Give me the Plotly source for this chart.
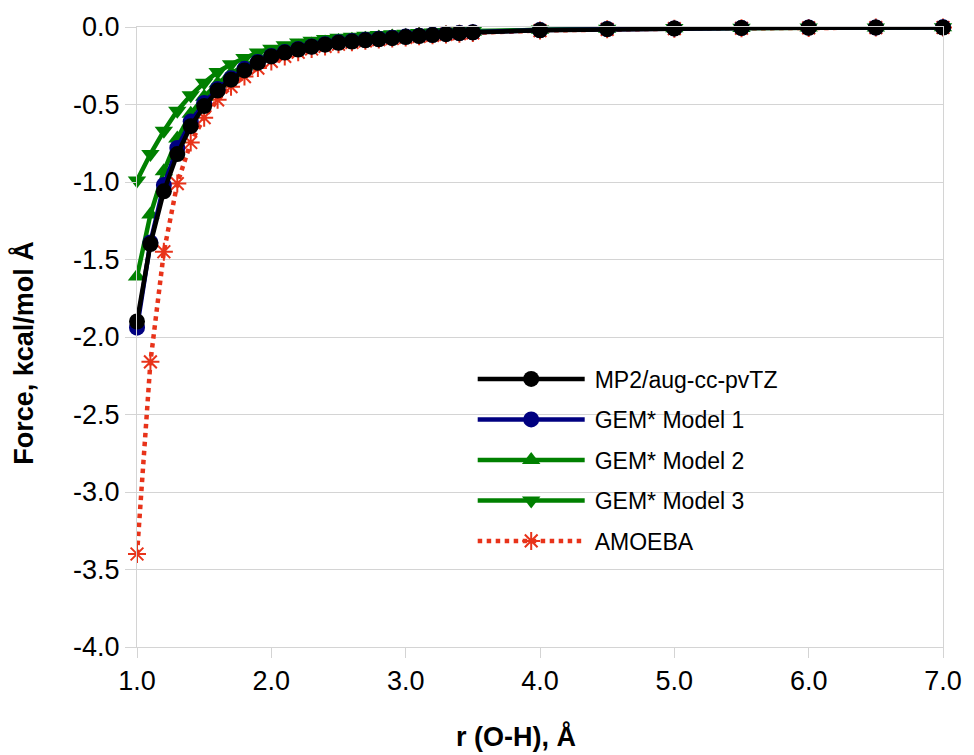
import plotly.graph_objects as go

# O-H separation (Angstrom)
r_oh = [1.0, 1.1, 1.2, 1.3, 1.4, 1.5, 1.6, 1.7, 1.8, 1.9,
        2.0, 2.1, 2.2, 2.3, 2.4, 2.5, 2.6, 2.7, 2.8, 2.9,
        3.0, 3.1, 3.2, 3.3, 3.4, 3.5,
        4.0, 4.5, 5.0, 5.5, 6.0, 6.5, 7.0]

# Force (kcal/mol A) for each method
force_mp2 = [-1.90, -1.40, -1.06, -0.82, -0.64, -0.51, -0.41, -0.34, -0.28, -0.23,
             -0.19, -0.165, -0.145, -0.128, -0.114, -0.102, -0.094, -0.086, -0.079, -0.072,
             -0.065, -0.058, -0.052, -0.046, -0.040, -0.035,
             -0.021, -0.014, -0.010, -0.007, -0.005, -0.004, -0.003]

force_gem1 = [-1.94, -1.39, -1.02, -0.78, -0.61, -0.49, -0.40, -0.33, -0.27, -0.225,
              -0.187, -0.162, -0.142, -0.125, -0.111, -0.099, -0.091, -0.083, -0.076, -0.069,
              -0.062, -0.056, -0.050, -0.044, -0.039, -0.034,
              -0.020, -0.013, -0.009, -0.006, -0.004, -0.003, -0.002]

force_gem2 = [-1.61, -1.21, -0.93, -0.72, -0.56, -0.45, -0.365, -0.30, -0.25, -0.205,
              -0.172, -0.147, -0.128, -0.113, -0.100, -0.090, -0.082, -0.075, -0.068, -0.062,
              -0.056, -0.050, -0.045, -0.040, -0.035, -0.031,
              -0.018, -0.012, -0.008, -0.006, -0.004, -0.003, -0.002]

force_gem3 = [-0.99, -0.82, -0.67, -0.54, -0.44, -0.36, -0.29, -0.24, -0.20, -0.165,
              -0.14, -0.118, -0.10, -0.088, -0.078, -0.070, -0.063, -0.057, -0.052, -0.047,
              -0.043, -0.039, -0.035, -0.032, -0.029, -0.026,
              -0.016, -0.011, -0.007, -0.005, -0.004, -0.003, -0.002]

force_amoeba = [-3.40, -2.16, -1.45, -1.01, -0.745, -0.585, -0.47, -0.385, -0.32, -0.265,
                -0.222, -0.19, -0.163, -0.142, -0.125, -0.111, -0.099, -0.089, -0.081, -0.074,
                -0.067, -0.060, -0.054, -0.048, -0.043, -0.038,
                -0.023, -0.015, -0.011, -0.008, -0.006, -0.004, -0.003]

# Axis ticks
x_tick_vals = [1, 2, 3, 4, 5, 6, 7]
x_tick_text = ["1.0", "2.0", "3.0", "4.0", "5.0", "6.0", "7.0"]
y_tick_vals = [0.0, -0.5, -1.0, -1.5, -2.0, -2.5, -3.0, -3.5, -4.0]
y_tick_text = ["0.0", "-0.5", "-1.0", "-1.5", "-2.0", "-2.5", "-3.0", "-3.5", "-4.0"]

FONT = "Liberation Sans, Arial, sans-serif"
GRID = "#d4d4d4"

fig = go.Figure()

# drawn bottom-to-top so the reference MP2 curve sits on top
series = [
    ("AMOEBA", force_amoeba, "#e8331a", "dot", "asterisk-open", 15, 5),
    ("GEM* Model 3", force_gem3, "#008000", "solid", "triangle-down", 16, 4),
    ("GEM* Model 2", force_gem2, "#008000", "solid", "triangle-up", 16, 3),
    ("GEM* Model 1", force_gem1, "#000080", "solid", "circle", 16, 2),
    ("MP2/aug-cc-pvTZ", force_mp2, "#000000", "solid", "circle", 16, 1),
]
for name, ys, color, dash, symbol, size, rank in series:
    marker = dict(symbol=symbol, size=size, color=color)
    if symbol == "asterisk-open":
        marker["line"] = dict(color=color, width=2)
    fig.add_trace(go.Scatter(
        x=r_oh, y=ys, name=name, mode="lines+markers",
        line=dict(color=color, width=4.5, dash=dash),
        marker=marker, legendgroup=name, legendrank=rank,
        cliponaxis=False,
    ))

fig.update_layout(
    width=974, height=755,
    margin=dict(l=137, r=25, t=24, b=108),
    paper_bgcolor="white", plot_bgcolor="white",
    font=dict(family=FONT, color="black"),
    showlegend=True,
    legend=dict(
        x=0.4165, y=0.467, xanchor="left", yanchor="top",
        font=dict(family=FONT, size=23, color="black"),
        bgcolor="rgba(0,0,0,0)", borderwidth=0,
        traceorder="grouped", tracegroupgap=7.6,
        itemwidth=112,
    ),
    xaxis=dict(
        range=[1, 7], tickvals=x_tick_vals, ticktext=x_tick_text,
        showgrid=False, zeroline=False,
        showline=True, linecolor=GRID, linewidth=1, mirror=True,
        ticks="outside", ticklen=10, tickcolor=GRID, tickwidth=1,
        tickfont=dict(family=FONT, size=27, color="black"),
    ),
    yaxis=dict(
        range=[-4, 0], tickvals=y_tick_vals, ticktext=y_tick_text,
        showgrid=True, gridcolor=GRID, gridwidth=1, zeroline=False,
        showline=True, linecolor=GRID, linewidth=1, mirror=True,
        ticks="outside", ticklen=11, tickcolor=GRID, tickwidth=1,
        tickfont=dict(family=FONT, size=27, color="black"),
    ),
    annotations=[
        dict(text="<b>r (O-H), Å</b>", xref="paper", yref="paper",
             x=0.4705, y=-0.144, xanchor="center", yanchor="middle",
             showarrow=False, font=dict(family=FONT, size=27, color="black")),
        dict(text="<b>Force, kcal/mol Å</b>", xref="paper", yref="paper",
             x=-0.141, y=0.475, xanchor="center", yanchor="middle", textangle=-90,
             showarrow=False, font=dict(family=FONT, size=27, color="black")),
    ],
)

# stretch the legend line samples across the wider symbol column
post = """
var gd = document.getElementById('{plot_id}');
gd.querySelectorAll('.legend .legendlines path').forEach(function(p){
    p.setAttribute('d', 'M5,0h107');
});
gd.querySelectorAll('.legend .legendpoints path.scatterpts').forEach(function(p){
    p.setAttribute('transform', 'translate(58.5,0)');
});
"""

fig.write_html("out.html", post_script=post)
